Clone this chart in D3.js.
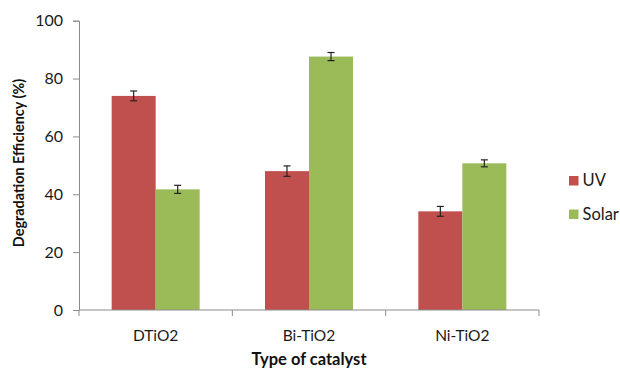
<!DOCTYPE html>
<html>
<head>
<meta charset="utf-8">
<script src="https://cdn.jsdelivr.net/npm/d3@7"></script>
<style>
  html, body { margin: 0; padding: 0; background: #fff; }
  svg { display: block; font-family: Lato, "Open Sans", sans-serif; }
</style>
</head>
<body>
<svg id="chart" width="620" height="369"></svg>
<script>
// Catalyst types and degradation efficiency (%) with error ranges
const categories = ["DTiO2", "Bi-TiO2", "Ni-TiO2"];
const seriesNames = ["UV", "Solar"];
const uvValues = [74, 48, 34.1];
const solarValues = [41.7, 87.6, 50.7];
const uvErrors = [1.7, 1.8, 1.7];
const solarErrors = [1.4, 1.4, 1.2];
const yTicks = [0, 20, 40, 60, 80, 100];

const colors = { UV: "#C0504D", Solar: "#9BBB59" };
const axisColor = "#8c8c8c";
const textColor = "#1a1a1a";

const svg = d3.select("#chart");
const margin = { left: 79, right: 81, top: 20.7, bottom: 59 };
const width = 620 - margin.left - margin.right;
const height = 369 - margin.top - margin.bottom;

const g = svg.append("g").attr("transform", `translate(${margin.left},${margin.top})`);

const x = d3.scaleBand().domain(categories).range([0, width]).paddingInner(0).paddingOuter(0);
const inner = d3.scaleBand().domain(seriesNames).range([x.bandwidth() * 0.213, x.bandwidth() * 0.787]);
const y = d3.scaleLinear().domain([0, 100]).range([height, 0]);

const rows = categories.map((c, i) => ({
  cat: c,
  items: [
    { key: "UV", value: uvValues[i], err: uvErrors[i] },
    { key: "Solar", value: solarValues[i], err: solarErrors[i] }
  ]
}));

// Y axis
const yAxis = g.append("g")
  .call(d3.axisLeft(y).tickValues(yTicks).tickSize(6).tickPadding(10));
yAxis.select(".domain").attr("stroke", axisColor);
yAxis.selectAll(".tick line").attr("stroke", axisColor);
yAxis.selectAll(".tick text").attr("font-size", 16).attr("fill", textColor)
  .attr("font-family", "Lato, sans-serif");

// Bars
const groups = g.selectAll(".grp").data(rows).join("g")
  .attr("transform", d => `translate(${x(d.cat)},0)`);

groups.selectAll("rect").data(d => d.items).join("rect")
  .attr("x", d => inner(d.key))
  .attr("width", inner.bandwidth())
  .attr("y", d => y(d.value))
  .attr("height", d => y(0) - y(d.value))
  .attr("fill", d => colors[d.key]);

// Error bars
const eb = groups.selectAll(".err").data(d => d.items).join("g")
  .attr("class", "err")
  .attr("stroke", "#222")
  .attr("stroke-width", 1.2);
eb.append("line")
  .attr("x1", d => inner(d.key) + inner.bandwidth() / 2)
  .attr("x2", d => inner(d.key) + inner.bandwidth() / 2)
  .attr("y1", d => y(d.value + d.err))
  .attr("y2", d => y(d.value - d.err));
[1, -1].forEach(s => {
  eb.append("line")
    .attr("x1", d => inner(d.key) + inner.bandwidth() / 2 - 3.5)
    .attr("x2", d => inner(d.key) + inner.bandwidth() / 2 + 3.5)
    .attr("y1", d => y(d.value + s * d.err))
    .attr("y2", d => y(d.value + s * d.err));
});

// X axis with boundary ticks between categories
const xAxisG = g.append("g").attr("transform", `translate(0,${height})`);
xAxisG.append("line").attr("x1", 0).attr("x2", width).attr("stroke", axisColor);
const boundaries = categories.map(c => x(c)).concat([width]);
xAxisG.selectAll(".bt").data(boundaries).join("line")
  .attr("x1", d => d).attr("x2", d => d).attr("y1", 0).attr("y2", 6)
  .attr("stroke", axisColor);
xAxisG.selectAll(".cl").data(categories).join("text")
  .attr("x", d => x(d) + x.bandwidth() / 2)
  .attr("y", 31)
  .attr("text-anchor", "middle")
  .attr("font-size", 15.5)
  .attr("fill", textColor)
  .text(d => d);

// Axis titles
svg.append("text")
  .attr("x", 309).attr("y", 365)
  .attr("text-anchor", "middle")
  .attr("font-size", 16.5).attr("font-weight", "bold").attr("fill", "#111")
  .text("Type of catalyst");

svg.append("text")
  .attr("transform", "translate(23.5,163) rotate(-90)")
  .attr("text-anchor", "middle")
  .attr("font-size", 14.4).attr("font-weight", "bold").attr("fill", "#111")
  .text("Degradation Efficiency (%)");

// Legend
const legend = svg.append("g").attr("transform", "translate(569,176)");
seriesNames.forEach((s, i) => {
  const row = legend.append("g").attr("transform", `translate(0,${i * 33.5})`);
  row.append("rect").attr("width", 9.5).attr("height", 9.5).attr("fill", colors[s]);
  row.append("text").attr("x", 13.5).attr("y", 10.3).attr("font-size", 16.5).attr("fill", textColor).text(s);
});
</script>
</body>
</html>
